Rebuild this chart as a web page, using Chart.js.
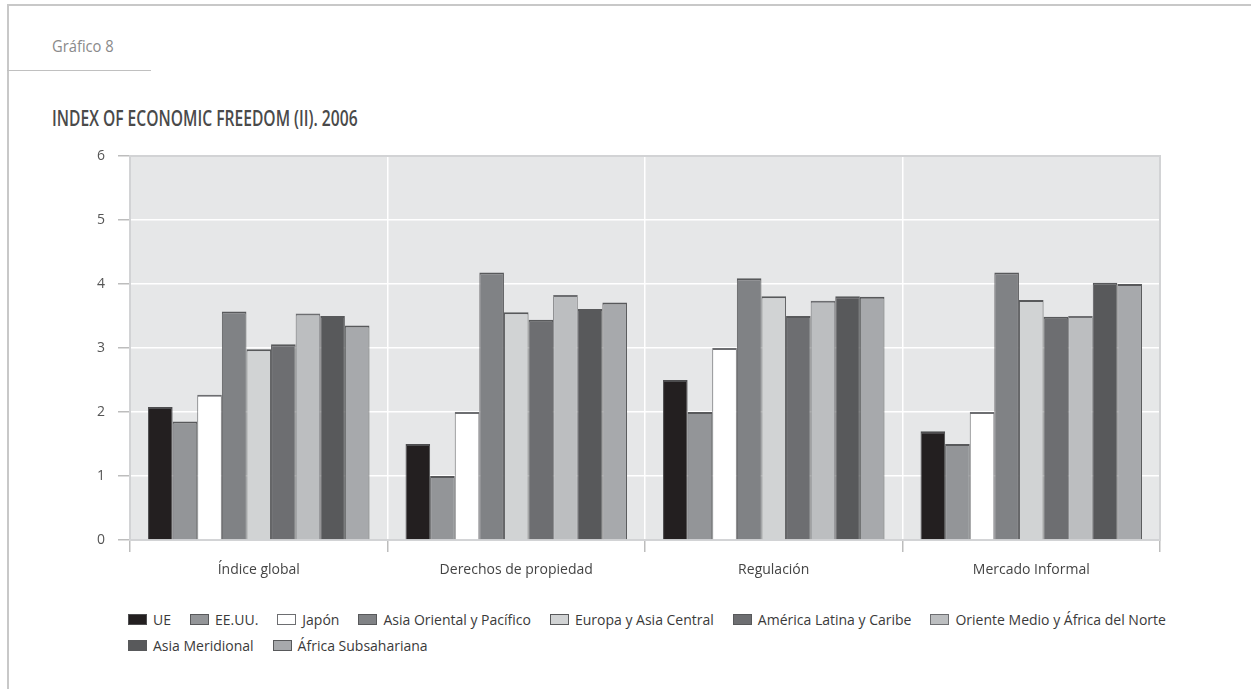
<!DOCTYPE html>
<html>
<head>
<meta charset="utf-8">
<script src="https://cdn.jsdelivr.net/npm/chart.js@4.4.1/dist/chart.umd.min.js"></script>
<style>
  html, body { margin: 0; padding: 0; background: #fff; }
  body { width: 1251px; height: 689px; position: relative; overflow: hidden; font-family: "Open Sans", sans-serif; }
  .frame-top { position: absolute; left: 7px; top: 4px; right: 0; height: 2px; background: #c8c8c8; }
  .frame-left { position: absolute; left: 7px; top: 4px; width: 2px; bottom: 0; background: #c8c8c8; }
  .sub-line { position: absolute; left: 7px; top: 70px; width: 144px; height: 1px; background: #c0c0c0; }
  .kicker { position: absolute; left: 52px; top: 35px; font-size: 16px; color: #8a8a8a; transform: scaleX(0.92); transform-origin: left center; }
  .title { position: absolute; left: 52px; top: 102px; font-size: 22px; font-weight: 600; color: #4a4a4a; white-space: nowrap; transform: scaleX(0.71); transform-origin: left center; }
  #wrap { position: absolute; left: 0; top: 0; width: 1251px; height: 600px; }
  #legend { position: absolute; left: 128px; top: 606px; width: 1100px; display: flex; flex-wrap: wrap; font-size: 14px; color: #3a3a3a; }
  #legend .item { display: flex; align-items: center; height: 26px; margin-right: 19px; }
  #legend .box { width: 17px; height: 9px; border: 1px solid #58595b; margin-right: 6px; }
</style>
</head>
<body>
<div class="frame-top"></div>
<div class="frame-left"></div>
<div class="sub-line"></div>
<div class="kicker">Gráfico 8</div>
<div class="title">INDEX OF ECONOMIC FREEDOM (II). 2006</div>
<div id="wrap"><canvas id="c" width="1251" height="600"></canvas></div>
<div id="legend"></div>
<script>
// Categories
const categories = ["Índice global", "Derechos de propiedad", "Regulación", "Mercado Informal"];
// Series names
const seriesNames = ["UE", "EE.UU.", "Japón", "Asia Oriental y Pacífico", "Europa y Asia Central",
  "América Latina y Caribe", "Oriente Medio y África del Norte", "Asia Meridional", "África Subsahariana"];
// Series values (one per category)
const ue            = [2.08, 1.50, 2.50, 1.70];
const eeuu          = [1.85, 1.00, 2.00, 1.50];
const japon         = [2.27, 2.00, 3.00, 2.00];
const asiaOriental  = [3.57, 4.18, 4.09, 4.18];
const europaAsia    = [2.98, 3.56, 3.81, 3.75];
const americaLatina = [3.06, 3.44, 3.50, 3.49];
const orienteMedio  = [3.54, 3.83, 3.74, 3.50];
const asiaMeridional= [3.50, 3.61, 3.81, 4.02];
const africaSub     = [3.35, 3.71, 3.80, 4.00];
// Y tick labels
const yTicks = [0, 1, 2, 3, 4, 5, 6];

const seriesValues = [ue, eeuu, japon, asiaOriental, europaAsia, americaLatina, orienteMedio, asiaMeridional, africaSub];
const colors = ["#231f20", "#939598", "#ffffff", "#808285", "#d1d3d4", "#6d6e71", "#bcbec0", "#58595b", "#a7a9ac"];
const borders = ["#4d4d4f", "#58595b", "#6d6e71", "#58595b", "#58595b", "#58595b", "#6d6e71", "#58595b", "#58595b"];

const datasets = seriesNames.map((name, i) => ({
  label: name,
  data: seriesValues[i],
  backgroundColor: colors[i],
  borderColor: borders[i],
  borderWidth: { top: 2, left: 1, right: 1, bottom: 0 },
  borderSkipped: false,
  categoryPercentage: 0.86,
  barPercentage: 1.0
}));

const plotBg = {
  id: 'plotBg',
  beforeDraw(chart) {
    const a = chart.chartArea, ctx = chart.ctx;
    ctx.save();
    ctx.fillStyle = '#e6e7e8';
    ctx.fillRect(a.left, a.top, a.right - a.left, a.bottom - a.top);
    ctx.restore();
  },
  beforeDatasetsDraw(chart) {
    const a = chart.chartArea, ctx = chart.ctx;
    ctx.save();
    ctx.strokeStyle = '#d2d3d5';
    ctx.lineWidth = 2;
    ctx.strokeRect(a.left, a.top, a.right - a.left, a.bottom - a.top);
    ctx.restore();
  }
};

Chart.defaults.font.family = '"Open Sans", sans-serif';
new Chart(document.getElementById('c'), {
  type: 'bar',
  data: { labels: categories, datasets },
  plugins: [plotBg],
  options: {
    responsive: false,
    animation: false,
    layout: { padding: { top: 156, right: 91, bottom: 0, left: 40 } },
    plugins: { legend: { display: false }, tooltip: { enabled: false } },
    scales: {
      x: {
        offset: true,
        grid: { offset: true, color: '#ffffff', lineWidth: 1.5, tickLength: 12, tickColor: '#bdbdbd', drawTicks: true },
        border: { display: true, color: '#cfcfcf', width: 2 },
        ticks: { color: '#444', font: { size: 14 }, padding: 10, maxRotation: 0 },
        afterFit(s) { s.height = 60; }
      },
      y: {
        min: 0, max: 6,
        afterBuildTicks(s) { s.ticks = yTicks.map(v => ({ value: v })); },
        grid: {
          color: (c) => (c.tick && (c.tick.value === 0 || c.tick.value === 6)) ? 'rgba(0,0,0,0)' : '#ffffff',
          lineWidth: 1.5, tickLength: 12, tickColor: '#bdbdbd', drawTicks: true
        },
        border: { display: true, color: '#cfcfcf', width: 2 },
        ticks: { color: '#555', font: { size: 14 }, padding: 13 },
        afterFit(s) { s.width = 90; }
      }
    }
  }
});

// HTML legend built from the series arrays
const leg = document.getElementById('legend');
seriesNames.forEach((name, i) => {
  const it = document.createElement('div');
  it.className = 'item';
  const b = document.createElement('span');
  b.className = 'box';
  b.style.background = colors[i];
  b.style.borderColor = borders[i];
  const t = document.createElement('span');
  t.textContent = name;
  it.appendChild(b); it.appendChild(t);
  leg.appendChild(it);
});
</script>
</body>
</html>
